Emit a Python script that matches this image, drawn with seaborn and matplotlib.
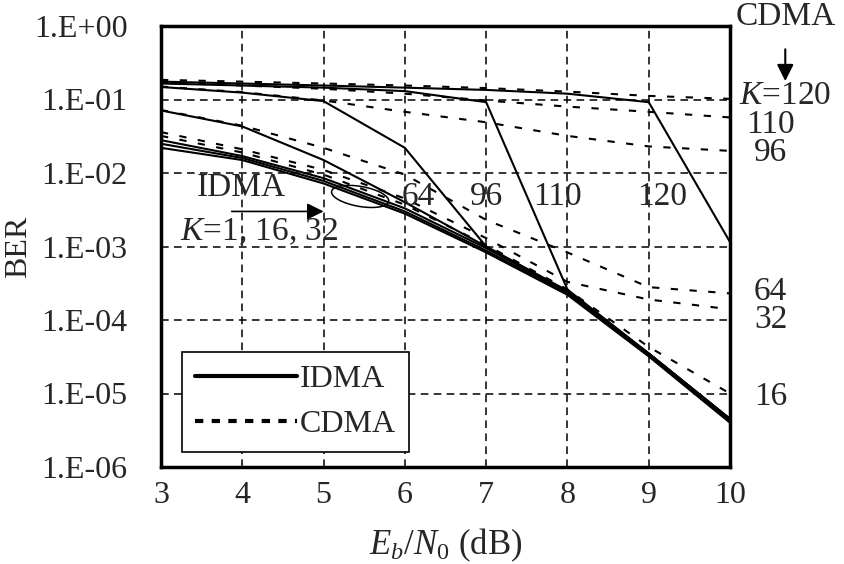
import numpy as np
import pandas as pd
import seaborn as sns
import matplotlib.pyplot as plt
import matplotlib.ticker as mticker
from matplotlib.lines import Line2D
from matplotlib.patches import Ellipse
from matplotlib.transforms import ScaledTranslation

ebn0 = [3, 4, 5, 6, 7, 8, 9, 10]

# IDMA (solid)
idma_k1 = [0.022, 0.0150, 0.0072, 0.0028, 8.3e-4, 2.2e-4, 3.2e-5, 4.0e-6]
idma_k16 = [0.025, 0.0160, 0.0078, 0.0030, 8.8e-4, 2.3e-4, 3.3e-5, 4.2e-6]
idma_k32 = [0.028, 0.0170, 0.0085, 0.0033, 9.5e-4, 2.4e-4, 3.5e-5, 4.5e-6]
idma_k64 = [0.071, 0.043, 0.015, 0.0040, 1.0e-3, 2.4e-4, 3.5e-5, 4.5e-6]
idma_k96 = [0.148, 0.124, 0.095, 0.022, 1.0e-3, 2.5e-4, 3.5e-5, 4.5e-6]
idma_k110 = [0.165, 0.155, 0.145, 0.13, 0.092, 2.6e-4, 3.5e-5, 4.5e-6]
idma_k120 = [0.175, 0.165, 0.155, 0.145, 0.135, 0.12, 0.092, 1.15e-3]

# CDMA (dashed)
cdma_k16 = [0.032, 0.019, 0.0095, 0.0037, 1.05e-3, 2.6e-4, 4.3e-5, 1.0e-5]
cdma_k32 = [0.036, 0.021, 0.011, 0.0045, 1.3e-3, 3.3e-4, 1.9e-4, 1.4e-4]
cdma_k64 = [0.072, 0.044, 0.022, 0.0095, 2.3e-3, 8.3e-4, 2.8e-4, 2.3e-4]
cdma_k96 = [0.150, 0.126, 0.097, 0.068, 0.049, 0.032, 0.023, 0.020]
cdma_k110 = [0.170, 0.155, 0.140, 0.120, 0.097, 0.080, 0.068, 0.057]
cdma_k120 = [0.185, 0.175, 0.165, 0.155, 0.143, 0.128, 0.112, 0.102]

series = {
    ("IDMA", 1): idma_k1, ("IDMA", 16): idma_k16, ("IDMA", 32): idma_k32,
    ("IDMA", 64): idma_k64, ("IDMA", 96): idma_k96, ("IDMA", 110): idma_k110,
    ("IDMA", 120): idma_k120,
    ("CDMA", 16): cdma_k16, ("CDMA", 32): cdma_k32, ("CDMA", 64): cdma_k64,
    ("CDMA", 96): cdma_k96, ("CDMA", 110): cdma_k110, ("CDMA", 120): cdma_k120,
}
rows = []
for (scheme, k), vals in series.items():
    for x, v in zip(ebn0, vals):
        rows.append({"ebn0": x, "ber": v, "scheme": scheme, "K": f"{scheme}{k}"})
df = pd.DataFrame(rows)

sns.set_style("white")
plt.rcParams["font.family"] = ["Liberation Serif", "DejaVu Serif"]
plt.rcParams["mathtext.fontset"] = "custom"
plt.rcParams["mathtext.rm"] = "Liberation Serif"
plt.rcParams["mathtext.it"] = "Liberation Serif:italic"

fig = plt.figure(figsize=(8.45, 5.64), dpi=100)
ax = fig.add_axes([161 / 845, 1 - 467 / 564, (730 - 161) / 845, (467 - 26) / 564])

sns.lineplot(data=df, x="ebn0", y="ber", style="scheme", units="K", estimator=None,
             dashes={"IDMA": "", "CDMA": (3.5, 5.5)}, color="black", lw=1.5,
             legend=False, ax=ax)

ax.set_yscale("log")
ax.set_xlim(3, 10)
ax.set_ylim(1e-6, 1)
ax.set_xticks(ebn0)
ax.yaxis.set_major_locator(mticker.LogLocator(base=10, numticks=10))
ax.yaxis.set_minor_locator(mticker.NullLocator())
ax.yaxis.set_major_formatter(mticker.FuncFormatter(
    lambda v, p: f"1.E{int(round(np.log10(v))):+03d}"))
ax.grid(True, which="major", color="black", linestyle=(0, (5, 3.5)), lw=1.1)
ax.tick_params(direction="in", length=7, width=1.2, labelsize=23)
ax.tick_params(axis="y", pad=24)
ax.tick_params(axis="x", pad=10)
for s in ax.spines.values():
    s.set_linewidth(2.5)
    s.set_color("black")

ax.set_xlabel("$E_b/N_0$ (dB)", fontsize=25, labelpad=12)
ax.set_ylabel("BER", fontsize=23)
ax.yaxis.set_label_coords(-0.225, 0.5)

# right-hand CDMA labels
ax.annotate("CDMA", xy=(10.68, 0.178), xytext=(10.68, 1.33), ha="center", va="center",
            fontsize=24, annotation_clip=False,
            arrowprops=dict(arrowstyle="-|>", color="black", lw=1.5, mutation_scale=25,
                            shrinkA=10, shrinkB=0))
ax.text(10.11, 0.111, "$K$=120", fontsize=24, va="center", ha="left", clip_on=False)
for lab, yv in [("110", 0.046), ("96", 0.019), ("64", 2.4e-4), ("32", 1.0e-4), ("16", 8.9e-6)]:
    ax.text(10.5, yv, lab, fontsize=24, va="center", ha="center", clip_on=False)

# IDMA labels inside
for lab, xv in [("64", 6.16), ("96", 7.0), ("110", 7.88), ("120", 9.17)]:
    ax.text(xv, 10 ** -2.32, lab, fontsize=24, va="center", ha="center")
ax.text(3.44, 6.3e-3, "IDMA", fontsize=24, va="center", ha="left")
ax.annotate("", xy=(5.0, 3e-3), xytext=(3.87, 3e-3),
            arrowprops=dict(arrowstyle="-|>", color="black", lw=1.2, mutation_scale=25,
                            shrinkA=0, shrinkB=0))
ax.text(3.23, 1.55e-3, "$K$=1, 16, 32", fontsize=24, va="center", ha="left")
ell_tr = fig.dpi_scale_trans + ScaledTranslation(5.45, 4.8e-3, ax.transData)
ax.add_patch(Ellipse((0, 0), 0.58, 0.2, angle=-10, transform=ell_tr,
                     fill=False, color="black", lw=1.1))

handles = [Line2D([], [], color="black", lw=3),
           Line2D([], [], color="black", lw=3, linestyle=(0, (2, 2)))]
leg = ax.legend(handles, ["IDMA", "CDMA"], loc="lower left", bbox_to_anchor=(0.037, 0.034),
                borderaxespad=0, fontsize=23, handlelength=3.2, handletextpad=0.1,
                labelspacing=0.5, borderpad=0.4, fancybox=False, framealpha=1,
                edgecolor="black")
leg.get_frame().set_linewidth(1.2)

fig.savefig("out.png", dpi=100)
